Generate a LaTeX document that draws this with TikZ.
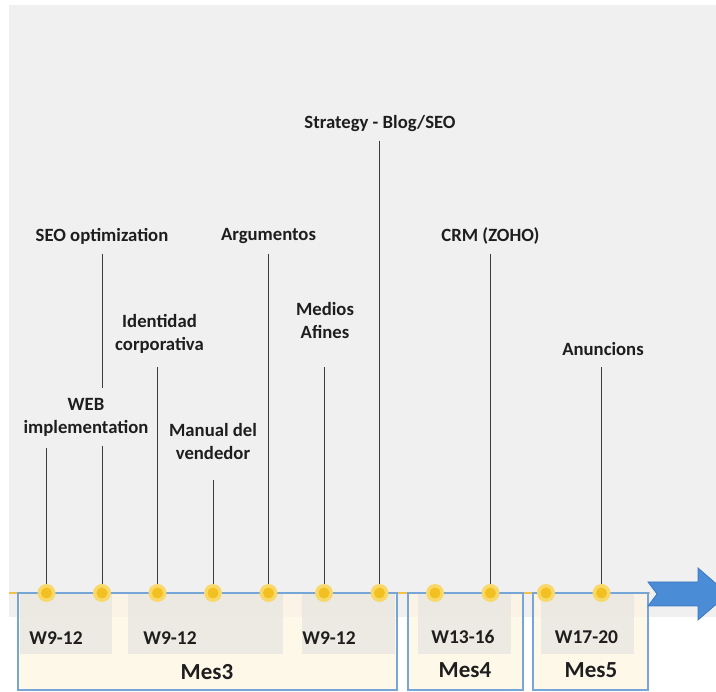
\documentclass[tikz,border=0pt]{standalone}
\usepackage{fontspec}
\setmainfont{Carlito}
\definecolor{bgcol}{HTML}{F0F0F0}
\definecolor{linecol}{HTML}{3C3C3C}
\definecolor{axiscol}{HTML}{F2C14A}
\definecolor{boxline}{HTML}{76A5D8}
\definecolor{boxfill}{HTML}{FEF6E4}
\definecolor{bandcol}{HTML}{E6E6E0}
\definecolor{dotouter}{HTML}{F9D86A}
\definecolor{dotinner}{HTML}{F2C020}
\definecolor{arrowfill}{HTML}{4A8CD6}
\definecolor{arrowline}{HTML}{3B78BE}
\definecolor{txt}{HTML}{1E1E1E}
\begin{document}
\begin{tikzpicture}[x=1pt,y=-1pt,
  lbl/.style={font=\bfseries\fontsize{18.7}{23}\selectfont, align=center, inner sep=0pt, text=txt},
  wlbl/.style={font=\bfseries\fontsize{19.5}{23}\selectfont, inner sep=0pt, text=txt},
  meslbl/.style={font=\bfseries\fontsize{23}{27}\selectfont, inner sep=0pt, text=txt},
  conn/.style={draw=linecol, line width=0.8pt},
  mbox/.style={draw=boxline, line width=1.3pt, fill=boxfill, fill opacity=0.8},
  band/.style={fill=bandcol, fill opacity=0.75},
  dot/.style={circle, fill=dotouter, minimum size=18pt, inner sep=0pt,
    path picture={\fill[dotinner] (path picture bounding box.center) circle (5.5pt);}}
]
\useasboundingbox (0,0) rectangle (716,692);
\clip (0,0) rectangle (716,692);
% background
\fill[bgcol] (9,5) rectangle (716,617);
% axis
\draw[axiscol, line width=1.3pt] (9,593) -- (650,593);
% month boxes
\path[mbox] (18,593) rectangle (397,690);
\path[mbox] (408,593) rectangle (523,690);
\path[mbox] (533,593) rectangle (648,690);
% week bands
\fill[band] (20,594) rectangle (112,654);
\fill[band] (128,594) rectangle (283,654);
\fill[band] (302,594) rectangle (395,654);
\fill[band] (418,594) rectangle (511,654);
\fill[band] (541,594) rectangle (634,654);
% week and month texts
\node[wlbl] (w1) at (56,638) {W9-12};
\node[wlbl] (w2) at (170,638) {W9-12};
\node[wlbl] (w3) at (329,638) {W9-12};
\node[wlbl] (w4) at (463,637) {W13-16};
\node[wlbl] (w5) at (586.5,637) {W17-20};
\node[meslbl] (m3) at (207,672) {Mes3};
\node[meslbl] (m4) at (465,670) {Mes4};
\node[meslbl] (m5) at (591,670) {Mes5};
% milestone dots
\node[dot] (d1) at (46.5,593) {};
\node[dot] (d2) at (102,593) {};
\node[dot] (d3) at (157.5,593) {};
\node[dot] (d4) at (213,593) {};
\node[dot] (d5) at (268.5,593) {};
\node[dot] (d6) at (324,593) {};
\node[dot] (d7) at (379.5,593) {};
\node[dot] (d8) at (435,593) {};
\node[dot] (d9) at (490.5,593) {};
\node[dot] (d10) at (546,593) {};
\node[dot] (d11) at (601.5,593) {};
% line tops
\coordinate (t1) at (46.5,448);
\coordinate (t2) at (102,254);
\coordinate (t3) at (157.5,367);
\coordinate (t4) at (213,480);
\coordinate (t5) at (268.5,254);
\coordinate (t6) at (324,367);
\coordinate (t7) at (379.5,141);
\coordinate (t9) at (490.5,254);
\coordinate (t11) at (601.5,367);
\draw[conn] (d1.north) -- (t1);
\draw[conn] (d2.north) -- (t2);
\draw[conn] (d3.north) -- (t3);
\draw[conn] (d4.north) -- (t4);
\draw[conn] (d5.north) -- (t5);
\draw[conn] (d6.north) -- (t6);
\draw[conn] (d7.north) -- (t7);
\draw[conn] (d9.north) -- (t9);
\draw[conn] (d11.north) -- (t11);
% labels
\node[lbl, fill=bgcol, inner xsep=2pt, inner ysep=10pt] (web) at (86,417) {WEB\\implementation};
\node[lbl] (seo) at (102,236) {SEO optimization};
\node[lbl] (ident) at (159.5,333.5) {Identidad\\corporativa};
\node[lbl] (manual) at (213,441.5) {Manual del\\vendedor};
\node[lbl] (argu) at (268.5,236) {Argumentos};
\node[lbl] (medios) at (325,320.5) {Medios\\Afines};
\node[lbl] (strat) at (380,123.5) {Strategy - Blog/SEO};
\node[lbl] (crm) at (490.5,236) {CRM (ZOHO)};
\node[lbl] (anun) at (603,349) {Anuncions};
% arrow
\filldraw[fill=arrowfill, draw=arrowline, line width=0.8pt]
  (648,582) -- (698,582) -- (698,568) -- (728,594) -- (698,620) -- (698,606) -- (648,606) -- (657,594) -- cycle;
\end{tikzpicture}
\end{document}
